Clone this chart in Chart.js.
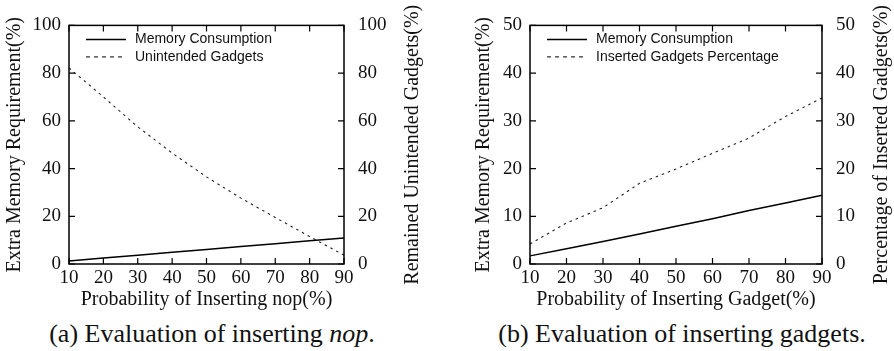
<!DOCTYPE html>
<html lang="en">
<head>
<meta charset="UTF-8">
<title>Evaluation of inserting nop and gadgets</title>
<script src="https://cdn.jsdelivr.net/npm/chart.js"></script>
<style>
    body {
        margin: 0;
        background: #fff;
        width: 894px;
        height: 351px;
        position: relative;
        overflow: hidden;
        font-family: 'Liberation Serif', 'DejaVu Serif', serif;
        color: #111;
    }
    .box { position: absolute; top: 0; width: 447px; height: 315px; }
    #boxA { left: 0; }
    #boxB { left: 447px; }
    .caption {
        position: absolute;
        top: 321px;
        font-size: 26px;
        line-height: 26px;
        white-space: nowrap;
        transform: translateX(-50%);
    }
</style>
</head>
<body>
    <div class="box" id="boxA"><canvas id="chartA"></canvas></div>
    <div class="box" id="boxB"><canvas id="chartB"></canvas></div>
    <div class="caption" style="left:212px">(a) Evaluation of inserting <i>nop</i>.</div>
    <div class="caption" style="left:682px">(b) Evaluation of inserting gadgets.</div>

<script>
// x values (probability, %)
const probLabels = ['10', '20', '30', '40', '50', '60', '70', '80', '90'];

// (a) inserting nop
const memoryNop = [1.3, 2.5, 3.7, 4.9, 6.1, 7.3, 8.5, 9.7, 10.9];
const unintendedGadgets = [82.2, 70.0, 57.5, 46.5, 36.5, 27.6, 19.5, 11.5, 3.7];

// (b) inserting gadgets
const memoryGadget = [1.7, 3.2, 4.7, 6.3, 7.9, 9.5, 11.2, 12.8, 14.4];
const insertedGadgets = [4.2, 8.6, 11.8, 16.9, 19.9, 23.2, 26.4, 30.9, 34.8];

const ink = '#111';
const tickFont = { family: "'Liberation Serif', serif", size: 19 };
const titleFont = { family: "'Liberation Serif', serif", size: 20 };

// gnuplot style: closed frame, inward ticks, legend inside, right title bottom-to-top
const framePlugin = {
    id: 'frame',
    afterDraw(chart, args, opts) {
        const ctx = chart.ctx;
        const a = chart.chartArea;
        const x = chart.scales.x, y = chart.scales.y, y2 = chart.scales.y2;
        ctx.save();
        ctx.strokeStyle = '#000';
        ctx.lineWidth = 1.5;
        ctx.strokeRect(a.left, a.top, a.right - a.left, a.bottom - a.top);

        ctx.lineWidth = 1.2;
        ctx.beginPath();
        x.ticks.forEach((t, i) => {
            const px = x.getPixelForValue(i);
            ctx.moveTo(px, a.bottom); ctx.lineTo(px, a.bottom - 6);
            ctx.moveTo(px, a.top); ctx.lineTo(px, a.top + 6);
        });
        y.ticks.forEach(t => {
            const py = y.getPixelForValue(t.value);
            ctx.moveTo(a.left, py); ctx.lineTo(a.left + 6, py);
        });
        y2.ticks.forEach(t => {
            const py = y2.getPixelForValue(t.value);
            ctx.moveTo(a.right, py); ctx.lineTo(a.right - 6, py);
        });
        ctx.stroke();

        // legend
        ctx.font = "14px 'Liberation Sans', Arial, sans-serif";
        ctx.fillStyle = ink;
        ctx.textBaseline = 'middle';
        ctx.textAlign = 'left';
        chart.data.datasets.forEach((ds, i) => {
            const ly = a.top + 14 + i * 17.5;
            ctx.beginPath();
            ctx.lineWidth = ds.borderDash ? 1 : 1.5;
            ctx.setLineDash(ds.borderDash ? [4, 4] : []);
            ctx.moveTo(a.left + 17, ly);
            ctx.lineTo(a.left + 57, ly);
            ctx.stroke();
            ctx.setLineDash([]);
            ctx.fillText(ds.label, a.left + 66, ly);
        });

        // right axis title
        ctx.font = "20px 'Liberation Serif', serif";
        ctx.textAlign = 'center';
        ctx.translate(opts.rightTitleX, (a.top + a.bottom) / 2);
        ctx.rotate(-Math.PI / 2);
        ctx.fillText(opts.rightTitle, 0, 0);
        ctx.restore();
    }
};

function makeChart(id, c) {
    return new Chart(document.getElementById(id), {
        type: 'line',
        data: {
            labels: probLabels,
            datasets: [{
                label: c.solidLabel,
                data: c.solid,
                yAxisID: 'y',
                borderColor: '#000',
                borderWidth: 1.5,
                pointRadius: 0,
                tension: 0
            }, {
                label: c.dashLabel,
                data: c.dashed,
                yAxisID: 'y2',
                borderColor: '#222',
                borderWidth: 1.1,
                borderDash: [2.5, 4],
                pointRadius: 0,
                tension: 0
            }]
        },
        options: {
            responsive: true,
            maintainAspectRatio: false,
            animation: false,
            layout: { padding: { top: 20 } },
            plugins: {
                legend: { display: false },
                tooltip: { enabled: false },
                frame: { rightTitle: c.rightTitle, rightTitleX: c.rightTitleX }
            },
            scales: {
                x: {
                    offset: false,
                    grid: { display: false, drawTicks: false },
                    border: { display: false },
                    ticks: { font: tickFont, color: ink, padding: 3, maxRotation: 0, autoSkip: false },
                    title: { display: true, text: c.xTitle, font: titleFont, color: ink, padding: { top: 0, bottom: 3 } },
                    afterFit: s => { s.height = 51; }
                },
                y: {
                    position: 'left',
                    min: 0,
                    max: c.max,
                    grid: { display: false, drawTicks: false },
                    border: { display: false },
                    ticks: { stepSize: c.step, font: tickFont, color: ink, padding: 8 },
                    title: { display: true, text: 'Extra Memory Requirement(%)', font: titleFont, color: ink, padding: { top: c.leftTitlePad, bottom: 0 } },
                    afterFit: s => { s.width = c.leftW; }
                },
                y2: {
                    position: 'right',
                    min: 0,
                    max: c.max,
                    grid: { display: false, drawTicks: false },
                    border: { display: false },
                    ticks: { stepSize: c.step, font: tickFont, color: ink, padding: 14 },
                    afterFit: s => { s.width = c.rightW; }
                }
            }
        },
        plugins: [framePlugin]
    });
}

makeChart('chartA', {
    solidLabel: 'Memory Consumption',
    dashLabel: 'Unintended Gadgets',
    solid: memoryNop,
    dashed: unintendedGadgets,
    max: 100,
    step: 20,
    xTitle: 'Probability of Inserting nop(%)',
    rightTitle: 'Remained Unintended Gadgets(%)',
    rightTitleX: 413,
    leftW: 69,
    rightW: 103,
    leftTitlePad: 3
});

makeChart('chartB', {
    solidLabel: 'Memory Consumption',
    dashLabel: 'Inserted Gadgets Percentage',
    solid: memoryGadget,
    dashed: insertedGadgets,
    max: 50,
    step: 10,
    xTitle: 'Probability of Inserting Gadget(%)',
    rightTitle: 'Percentage of Inserted Gadgets(%)',
    rightTitleX: 435,
    leftW: 83,
    rightW: 72,
    leftTitlePad: 25
});
</script>
</body>
</html>
